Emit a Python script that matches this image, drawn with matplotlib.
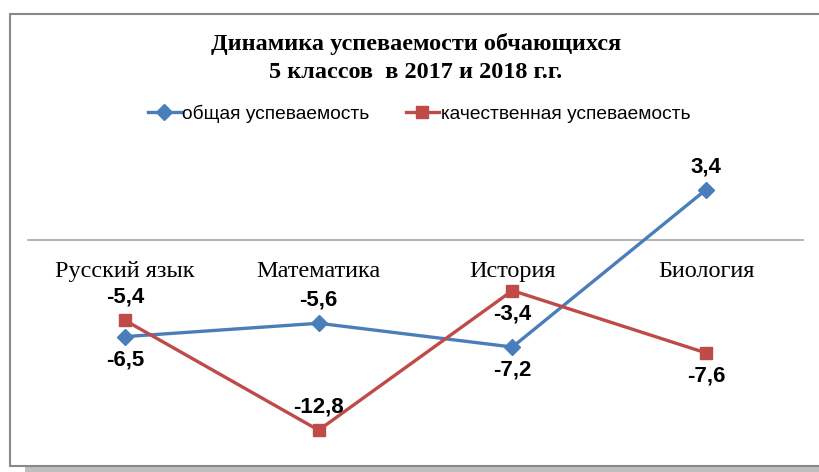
import matplotlib.pyplot as plt
from matplotlib.patches import Rectangle

subjects = ['Русский язык', 'Математика', 'История', 'Биология']
overall = [-6.5, -5.6, -7.2, 3.4]
quality = [-5.4, -12.8, -3.4, -7.6]
overall_label = 'общая успеваемость'
quality_label = 'качественная успеваемость'
title = 'Динамика успеваемости обчающихся\n5 классов  в 2017 и 2018 г.г.'

# label above (+1) or below (-1) each point
overall_side = [-1, 1, -1, 1]
quality_side = [1, 1, -1, -1]


def fmt(v):
    return '{:.1f}'.format(v).replace('.', ',')


def main():
    W, H = 820, 472
    fig = plt.figure(figsize=(W / 100, H / 100), dpi=100)

    # chart frame with shadow
    fig.patches.append(Rectangle((25 / W, 0), 1, 6 / H, transform=fig.transFigure,
                                 facecolor='#bfbfbf', edgecolor='none', zorder=0))
    fig.patches.append(Rectangle((10 / W, 1 - 466 / H), 1, (466 - 13.5) / H,
                                 transform=fig.transFigure, facecolor='white',
                                 edgecolor='#888888', linewidth=1.5, zorder=0.5))

    ax = fig.add_axes([28 / W, 1 - 448 / H, 775 / W, 297 / H])
    ax.set_zorder(2)
    ax.set_facecolor('none')
    x = range(len(subjects))
    ax.plot(x, overall, color='#4a7ebb', lw=2.4, marker='D', ms=8,
            label=overall_label, zorder=3)
    ax.plot(x, quality, color='#be4b48', lw=2.4, marker='s', ms=9,
            label=quality_label, zorder=3)

    for i in x:
        for vals, sides in ((overall, overall_side), (quality, quality_side)):
            ax.annotate(fmt(vals[i]), (i, vals[i]), xytext=(0, 16.5 * sides[i]),
                        textcoords='offset points', ha='center', va='center',
                        fontsize=16, fontweight='bold', family='Liberation Sans')

    ax.set_xlim(-0.5, 3.5)
    ax.set_ylim(-14, 6)
    ax.set_yticks([])
    for s in ['left', 'right', 'top']:
        ax.spines[s].set_visible(False)
    ax.spines['bottom'].set_position(('data', 0))
    ax.spines['bottom'].set_color('#a6a6a6')
    ax.spines['bottom'].set_linewidth(1.2)
    ax.set_xticks(list(x))
    ax.set_xticklabels(subjects, family='Liberation Serif', fontsize=17.5)
    ax.tick_params(axis='x', length=0, pad=15)

    fig.text(0.507, 1 - 58 / H, title, ha='center', va='center', fontsize=17.5,
             fontweight='bold', family='Liberation Serif', linespacing=1.4,
             zorder=3)

    leg = fig.legend(loc='center', bbox_to_anchor=(0.511, 1 - 113.5 / H), ncol=2,
                     frameon=False, prop={'family': 'Liberation Sans', 'size': 13.8},
                     handlelength=1.7, handletextpad=0.1, columnspacing=1.9)
    leg.set_zorder(3)

    fig.savefig('out.png', dpi=100)


if __name__ == '__main__':
    main()
